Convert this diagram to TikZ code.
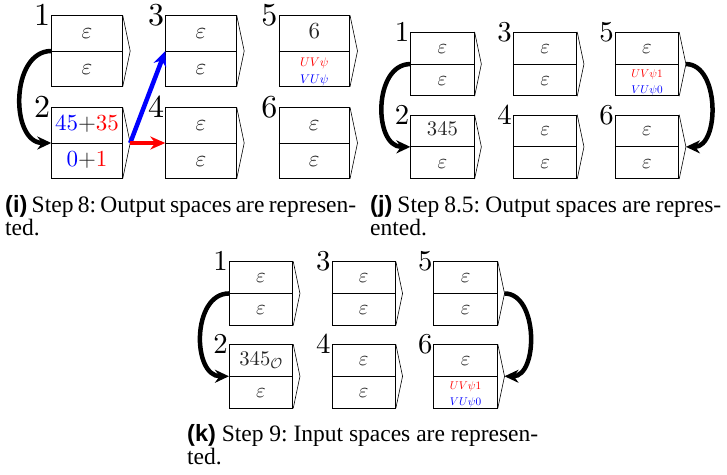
\documentclass[tikz,border=0pt]{standalone}
\usepackage[no-math]{fontspec}
\usetikzlibrary{arrows.meta,calc}
\DeclareFontShape{OML}{cmm}{m}{it}{<->cmmi10}{}
\DeclareFontShape{OMS}{cmsy}{m}{n}{<->cmsy10}{}
\DeclareFontShape{OT1}{cmr}{m}{n}{<->cmr10}{}
\newfontfamily\capserif{Liberation Serif}
\newfontfamily\capsans{Liberation Sans}
\newcommand\ebox[5]{%
  \node[boxst] (#1) at (#2) {};
  \draw[midline] (#1.west) -- (#1.east);
  \draw[chev] (#1.north east) -- ($(#1.east)+(7.5,0)$) coordinate (#1-tip) -- (#1.south east);
  \node[lblst] (#1-n) at (#1.north west) {$#3$};
  \node[txtst] (#1-t) at ($(#1.north)!0.5!(#1.center)$) {#4};
  \node[txtst] (#1-b) at ($(#1.south)!0.5!(#1.center)$) {#5};
}
\newcommand\eps{$\varepsilon$}
\newcommand\uvpair[2]{{\fontsize{12.5}{17.5}\selectfont\begin{tabular}{@{}c@{}}\textcolor{red}{$UV\psi#1$}\\\textcolor{blue}{$VU\psi#2$}\end{tabular}}}
\begin{document}
\begin{tikzpicture}[x=1pt,y=-1pt,
  boxst/.style={draw, line width=0.8pt, minimum width=70.6pt, minimum height=70.6pt, inner sep=0pt},
  midline/.style={line width=0.8pt},
  chev/.style={line width=0.6pt},
  lblst/.style={anchor=east, inner sep=1pt, font=\fontsize{32}{34}\selectfont},
  txtst/.style={inner sep=0pt, text height=17pt, text depth=5.7pt, text=black!85, font=\fontsize{23}{26}\selectfont},
  curvest/.style={line width=4.5pt, -{Stealth[length=14pt,width=13pt]}},
  bluearr/.style={blue, line width=4.5pt, -{Stealth[length=15pt,width=13pt]}},
  redarr/.style={red, line width=4pt, -{Stealth[length=15pt,width=13pt]}},
  capst/.style={anchor=north west, text width=351pt, align=justify, inner sep=0pt, font={\capserif\fontsize{23.5}{23}\selectfont}}]
\useasboundingbox (0,0) rectangle (727,474);
% panel (i)
\begin{scope}[shift={(51.7,15.7)}]
  \ebox{i1}{35.3,35.3}{1}{\eps}{\eps}
  \ebox{i2}{35.3,127.3}{2}{$\textcolor{blue}{45}{+}\textcolor{red}{35}$}{$\textcolor{blue}{0}{+}\textcolor{red}{1}$}
  \ebox{i3}{149.3,35.3}{3}{\eps}{\eps}
  \ebox{i4}{149.3,127.3}{4}{\eps}{\eps}
  \ebox{i5}{262.6,35.3}{5}{$6$}{\uvpair{}{}}
  \ebox{i6}{262.6,127.3}{6}{\eps}{\eps}
  \draw[curvest] (i1.west) to[out=180,in=180,looseness=1.15] (i2.west);
  \draw[bluearr] (i2-tip) -- (i3.west);
  \draw[redarr] (i2-tip) -- (i4.west);
\end{scope}
% panel (j)
\begin{scope}[shift={(410.7,32.3)}, scale=0.9, transform shape]
  \ebox{j1}{35.3,35.3}{1}{\eps}{\eps}
  \ebox{j2}{35.3,127.3}{2}{$345$}{\eps}
  \ebox{j3}{149.3,35.3}{3}{\eps}{\eps}
  \ebox{j4}{149.3,127.3}{4}{\eps}{\eps}
  \ebox{j5}{262.6,35.3}{5}{\eps}{\uvpair{1}{0}}
  \ebox{j6}{262.6,127.3}{6}{\eps}{\eps}
  \draw[curvest] (j1.west) to[out=180,in=180,looseness=1.15] (j2.west);
  \draw[curvest] (j5-tip) to[out=0,in=0,looseness=1.05] (j6-tip);
\end{scope}
% panel (k)
\begin{scope}[shift={(229.3,261.7)}, scale=0.9, transform shape]
  \ebox{k1}{35.3,35.3}{1}{\eps}{\eps}
  \ebox{k2}{35.3,127.3}{2}{$345_{\mathcal{O}}$}{\eps}
  \ebox{k3}{149.3,35.3}{3}{\eps}{\eps}
  \ebox{k4}{149.3,127.3}{4}{\eps}{\eps}
  \ebox{k5}{262.6,35.3}{5}{\eps}{\eps}
  \ebox{k6}{262.6,127.3}{6}{\eps}{\uvpair{1}{0}}
  \draw[curvest] (k1.west) to[out=180,in=180,looseness=1.15] (k2.west);
  \draw[curvest] (k5-tip) to[out=0,in=0,looseness=1.05] (k6-tip);
\end{scope}
% captions
\node[capst] (capi) at (5,195) {{\capsans\bfseries (i)}~Step~8:~Output~spaces~are~represen-\linebreak ted.};
\node[capst] (capj) at (370,195) {{\capsans\bfseries (j)}~Step~8.5:~Output~spaces~are~repres-\linebreak ented.};
\node[capst] (capk) at (187,424) {{\capsans\bfseries (k)}~Step~9:~Input~spaces~are~represen-\linebreak ted.};
\end{tikzpicture}
\end{document}
